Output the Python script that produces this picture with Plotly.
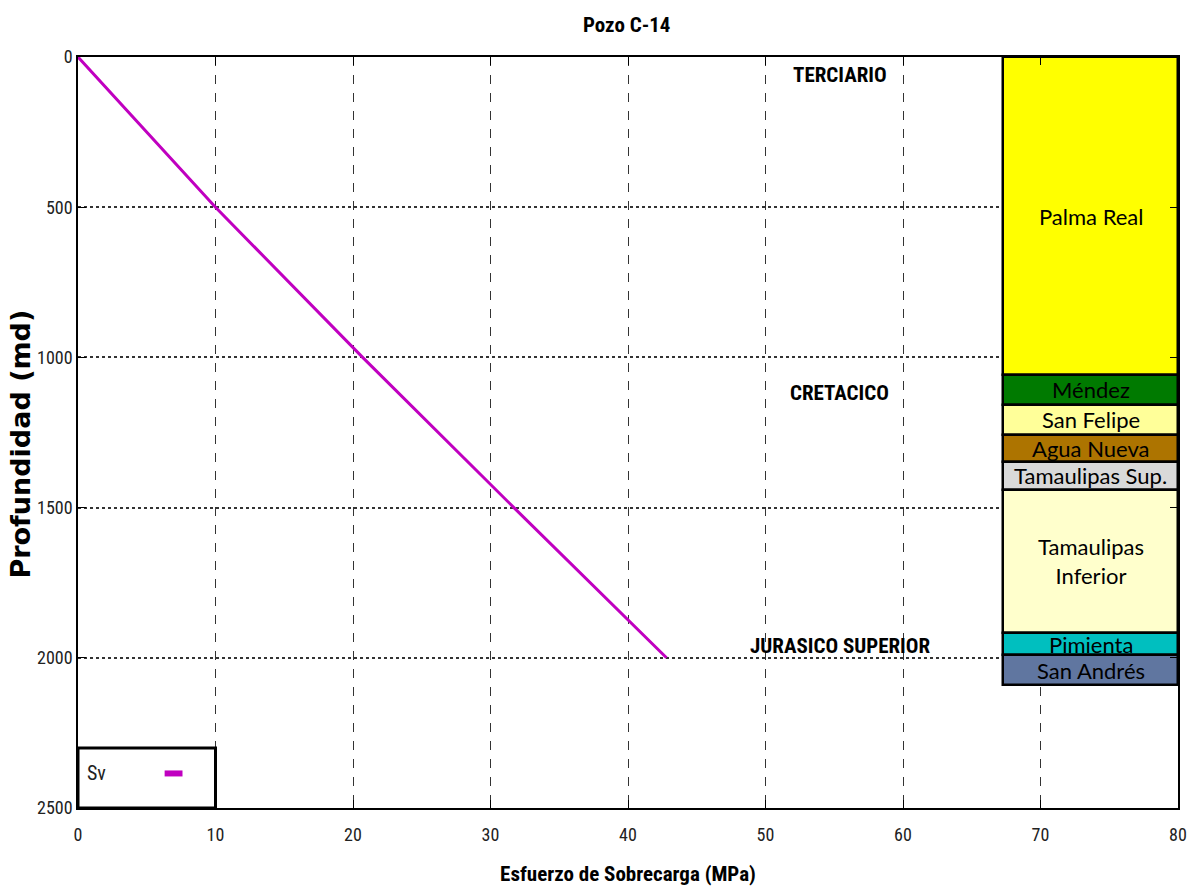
import plotly.graph_objects as go

# ---- data ----
depth_m = [0, 500, 1000, 1500, 2000]
sv_mpa = [0, 10.0, 20.7, 31.7, 42.8]

layer_names = ["Palma Real", "Méndez", "San Felipe", "Agua Nueva", "Tamaulipas Sup.",
               "Tamaulipas<br>Inferior", "Pimienta", "San Andrés"]
layer_tops = [0, 1060, 1157, 1257, 1347, 1440, 1917, 1992]
layer_bottoms = [1060, 1157, 1257, 1347, 1440, 1917, 1992, 2090]
layer_colors = ["#FFFF00", "#007A00", "#FFFF99", "#AD7400", "#D9D9D9",
                "#FFFFCC", "#00BFBF", "#6076A0"]
col_left, col_right = 67.3, 80.0

era_names = ["TERCIARIO", "CRETACICO", "JURASICO SUPERIOR"]
era_depths = [60, 1120, 1960]
era_x = 55.4

x_ticks = [0, 10, 20, 30, 40, 50, 60, 70, 80]
y_ticks = [0, 500, 1000, 1500, 2000, 2500]

NARROW = "Liberation Sans Narrow, Arial Narrow, Roboto Condensed, Liberation Sans, Arial, sans-serif"

fig = go.Figure()

# stratigraphic column
col_w = col_right - col_left
col_c = (col_left + col_right) / 2
for name, top, bot, colr in zip(layer_names, layer_tops, layer_bottoms, layer_colors):
    fig.add_trace(go.Bar(
        x=[col_c], y=[bot - top], base=[top], width=[col_w],
        marker=dict(color=colr, line=dict(color="black", width=2.5)),
        showlegend=False, hoverinfo="skip"))
    fig.add_annotation(
        x=col_c, y=(top + bot) / 2, text=name, showarrow=False,
        font=dict(family="Lato, Carlito, Calibri, Noto Sans, sans-serif", size=22, color="black"),
        xref="x", yref="y", yanchor="middle")

# Sv line
fig.add_trace(go.Scatter(
    x=sv_mpa, y=depth_m, mode="lines", name="Sv",
    line=dict(color="#C000C0", width=3), showlegend=False))

# era labels
for name, d in zip(era_names, era_depths):
    fig.add_annotation(
        x=era_x, y=d, text=f"<b>{name}</b>", showarrow=False, xref="x", yref="y",
        font=dict(family=NARROW, size=21, color="black"), yanchor="middle")

# legend box (manual)
fig.add_shape(type="rect", xref="x", yref="y", x0=0, x1=10, y0=2300, y1=2500,
              line=dict(color="black", width=3), fillcolor="white", layer="above")
fig.add_annotation(x=0.5, y=2385, xref="x", yref="y", text="Sv", showarrow=False,
                   xanchor="left", font=dict(family=NARROW, size=20, color="#222"))
fig.add_shape(type="line", xref="x", yref="y", x0=6.3, x1=7.6, y0=2385, y1=2385,
              line=dict(color="#C000C0", width=6), layer="above")

# y-axis title as annotation (slightly below centre, like the reference)
fig.add_annotation(x=-0.052, y=0.485, xref="paper", yref="paper",
                   text="<b>Profundidad (md)</b>", textangle=-90, showarrow=False,
                   xanchor="center", yanchor="middle",
                   font=dict(family="DejaVu Sans, Liberation Sans, Arial, sans-serif",
                             size=27, color="black"))

fig.update_layout(
    width=1187, height=886,
    margin=dict(l=78, r=9, t=57, b=78, autoexpand=False),
    paper_bgcolor="white", plot_bgcolor="white",
    barmode="overlay", bargap=0,
    title=dict(text="<b>Pozo C-14</b>", x=0.528, xanchor="center", y=0.972, yanchor="middle",
               font=dict(family=NARROW, size=21, color="black")),
    xaxis=dict(range=[0, 80], tickvals=x_ticks, showline=True, linecolor="black", linewidth=1.5,
               mirror="ticks", ticks="inside", ticklen=8, tickcolor="black",
               showgrid=True, gridcolor="#333", griddash="dash", gridwidth=1,
               zeroline=False, automargin=False, ticklabelstandoff=10,
               tickfont=dict(family=NARROW, size=18, color="#222"),
               title=dict(text="<b>Esfuerzo de Sobrecarga (MPa)</b>", standoff=22,
                          font=dict(family=NARROW, size=21, color="black"))),
    yaxis=dict(range=[2500, 0], tickvals=y_ticks, showline=True, linecolor="black", linewidth=1.5,
               mirror="ticks", ticks="inside", ticklen=8, tickcolor="black",
               showgrid=True, gridcolor="#333", griddash="dot", gridwidth=1.5,
               zeroline=False, automargin=False,
               tickfont=dict(family=NARROW, size=18, color="#222")),
)

fig.write_html(
    "out.html",
    config={"displayModeBar": False},
    post_script="document.body.style.margin='0';document.body.style.overflow='hidden';",
)
